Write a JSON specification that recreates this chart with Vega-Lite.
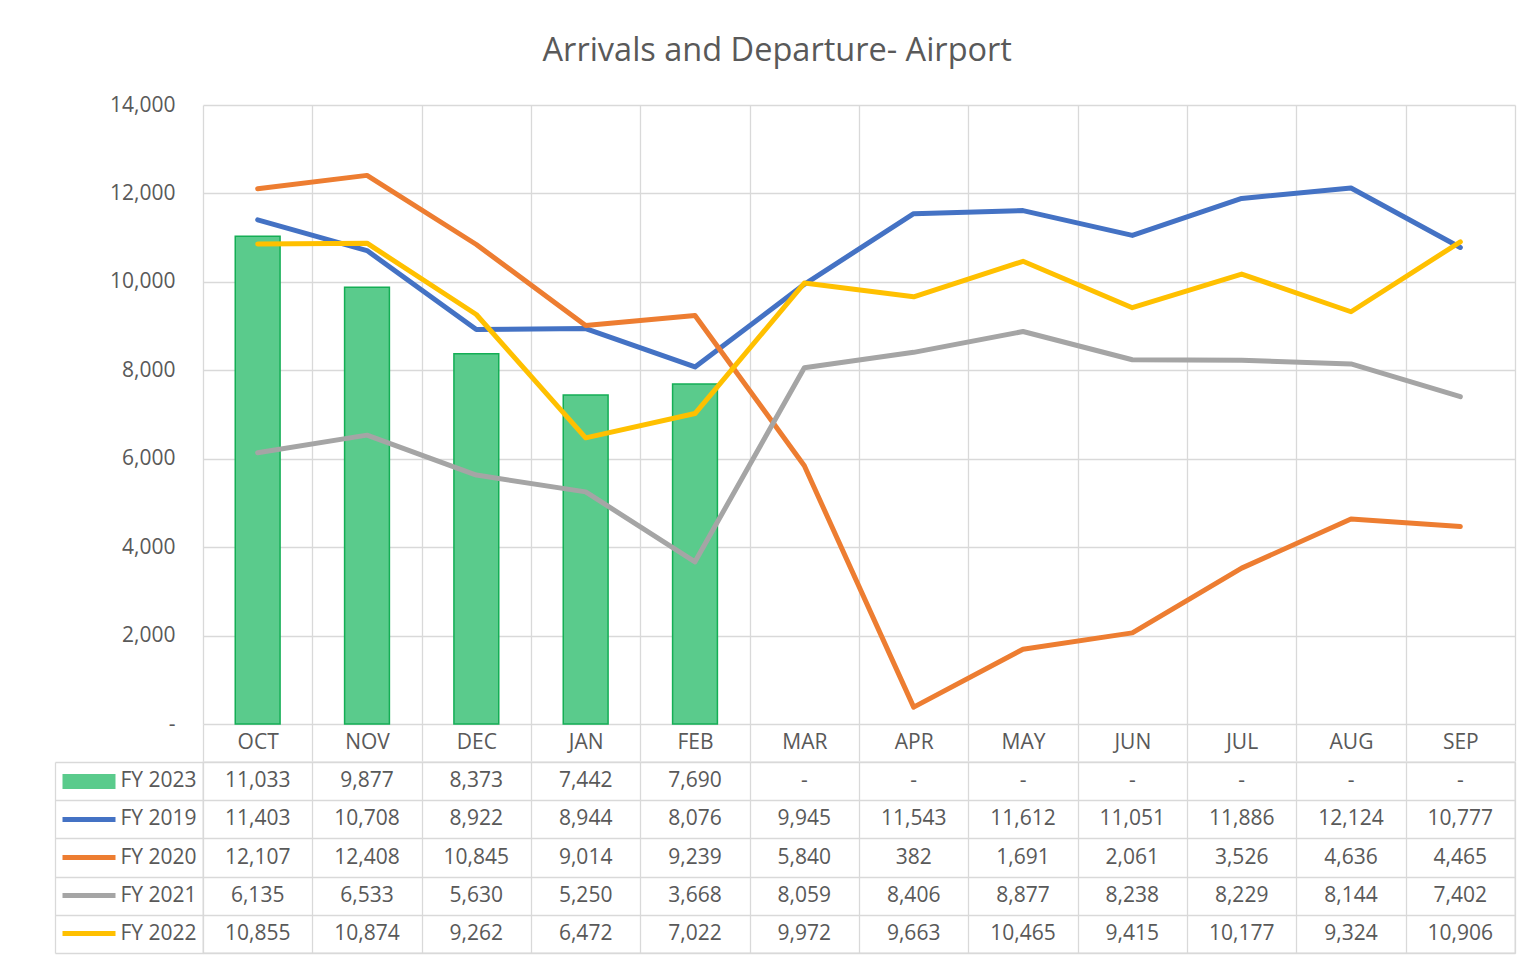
{
  "$schema": "https://vega.github.io/schema/vega-lite/v6.json",
  "background": "white",
  "padding": {"left": 46, "top": 34, "right": 26, "bottom": 10},
  "title": {"text": "Arrivals and Departure- Airport", "font": "Open Sans", "fontSize": 32.5, "fontWeight": "normal", "color": "#595959", "anchor": "middle", "dx": -4, "baseline": "alphabetic", "offset": 1},
  "spacing": -3,
  "datasets": {
    "d": [
      {"month": "OCT", "series": "FY 2023", "value": 11033},
      {"month": "NOV", "series": "FY 2023", "value": 9877},
      {"month": "DEC", "series": "FY 2023", "value": 8373},
      {"month": "JAN", "series": "FY 2023", "value": 7442},
      {"month": "FEB", "series": "FY 2023", "value": 7690},
      {"month": "MAR", "series": "FY 2023", "value": null},
      {"month": "APR", "series": "FY 2023", "value": null},
      {"month": "MAY", "series": "FY 2023", "value": null},
      {"month": "JUN", "series": "FY 2023", "value": null},
      {"month": "JUL", "series": "FY 2023", "value": null},
      {"month": "AUG", "series": "FY 2023", "value": null},
      {"month": "SEP", "series": "FY 2023", "value": null},
      {"month": "OCT", "series": "FY 2019", "value": 11403},
      {"month": "NOV", "series": "FY 2019", "value": 10708},
      {"month": "DEC", "series": "FY 2019", "value": 8922},
      {"month": "JAN", "series": "FY 2019", "value": 8944},
      {"month": "FEB", "series": "FY 2019", "value": 8076},
      {"month": "MAR", "series": "FY 2019", "value": 9945},
      {"month": "APR", "series": "FY 2019", "value": 11543},
      {"month": "MAY", "series": "FY 2019", "value": 11612},
      {"month": "JUN", "series": "FY 2019", "value": 11051},
      {"month": "JUL", "series": "FY 2019", "value": 11886},
      {"month": "AUG", "series": "FY 2019", "value": 12124},
      {"month": "SEP", "series": "FY 2019", "value": 10777},
      {"month": "OCT", "series": "FY 2020", "value": 12107},
      {"month": "NOV", "series": "FY 2020", "value": 12408},
      {"month": "DEC", "series": "FY 2020", "value": 10845},
      {"month": "JAN", "series": "FY 2020", "value": 9014},
      {"month": "FEB", "series": "FY 2020", "value": 9239},
      {"month": "MAR", "series": "FY 2020", "value": 5840},
      {"month": "APR", "series": "FY 2020", "value": 382},
      {"month": "MAY", "series": "FY 2020", "value": 1691},
      {"month": "JUN", "series": "FY 2020", "value": 2061},
      {"month": "JUL", "series": "FY 2020", "value": 3526},
      {"month": "AUG", "series": "FY 2020", "value": 4636},
      {"month": "SEP", "series": "FY 2020", "value": 4465},
      {"month": "OCT", "series": "FY 2021", "value": 6135},
      {"month": "NOV", "series": "FY 2021", "value": 6533},
      {"month": "DEC", "series": "FY 2021", "value": 5630},
      {"month": "JAN", "series": "FY 2021", "value": 5250},
      {"month": "FEB", "series": "FY 2021", "value": 3668},
      {"month": "MAR", "series": "FY 2021", "value": 8059},
      {"month": "APR", "series": "FY 2021", "value": 8406},
      {"month": "MAY", "series": "FY 2021", "value": 8877},
      {"month": "JUN", "series": "FY 2021", "value": 8238},
      {"month": "JUL", "series": "FY 2021", "value": 8229},
      {"month": "AUG", "series": "FY 2021", "value": 8144},
      {"month": "SEP", "series": "FY 2021", "value": 7402},
      {"month": "OCT", "series": "FY 2022", "value": 10855},
      {"month": "NOV", "series": "FY 2022", "value": 10874},
      {"month": "DEC", "series": "FY 2022", "value": 9262},
      {"month": "JAN", "series": "FY 2022", "value": 6472},
      {"month": "FEB", "series": "FY 2022", "value": 7022},
      {"month": "MAR", "series": "FY 2022", "value": 9972},
      {"month": "APR", "series": "FY 2022", "value": 9663},
      {"month": "MAY", "series": "FY 2022", "value": 10465},
      {"month": "JUN", "series": "FY 2022", "value": 9415},
      {"month": "JUL", "series": "FY 2022", "value": 10177},
      {"month": "AUG", "series": "FY 2022", "value": 9324},
      {"month": "SEP", "series": "FY 2022", "value": 10906}
    ]
  },
  "vconcat": [
    {
      "width": 1312,
      "height": 619,
      "data": {"name": "d"},
      "layer": [
        {
          "transform": [{"filter": "datum.series === 'FY 2023'"}],
          "mark": {"type": "bar", "width": {"band": 0.41}, "fill": "#5ACB8C", "stroke": "#14AE55", "strokeWidth": 1.5},
          "encoding": {
            "x": {"field": "month", "type": "nominal", "sort": ["OCT","NOV","DEC","JAN","FEB","MAR","APR","MAY","JUN","JUL","AUG","SEP"],
                  "scale": {"type": "band", "domain": ["OCT","NOV","DEC","JAN","FEB","MAR","APR","MAY","JUN","JUL","AUG","SEP"], "paddingInner": 0, "paddingOuter": 0},
                  "axis": {"orient": "bottom", "grid": true, "gridColor": "#D9D9D9", "gridWidth": 1.3, "tickBand": "extent", "ticks": true, "tickSize": 37, "tickColor": "#D9D9D9", "tickWidth": 1.3, "domain": false, "labelPadding": -19, "labelBaseline": "middle", "labelFont": "Open Sans", "labelFontSize": 21, "labelColor": "#595959", "labelAngle": 0, "title": null, "minExtent": 37, "maxExtent": 37}},
            "y": {"field": "value", "type": "quantitative", "scale": {"domain": [0, 14000], "nice": false},
                  "axis": {"values": [0, 2000, 4000, 6000, 8000, 10000, 12000, 14000], "labelExpr": "datum.value === 0 ? '-\u00a0\u00a0' : format(datum.value, ',')", "grid": true, "gridColor": "#D9D9D9", "gridWidth": 1.3, "domain": false, "ticks": false, "labelPadding": 28, "labelFont": "Open Sans", "labelFontSize": 21, "labelColor": "#595959", "title": null, "minExtent": 148, "maxExtent": 148}}
          }
        },
        {
          "transform": [{"filter": "datum.series !== 'FY 2023'"}],
          "mark": {"type": "line", "strokeWidth": 5, "strokeCap": "round", "strokeJoin": "round"},
          "encoding": {
            "x": {"field": "month", "type": "nominal", "sort": ["OCT","NOV","DEC","JAN","FEB","MAR","APR","MAY","JUN","JUL","AUG","SEP"]},
            "y": {"field": "value", "type": "quantitative"},
            "color": {"field": "series", "type": "nominal", "scale": {"domain": ["FY 2019", "FY 2020", "FY 2021", "FY 2022"], "range": ["#4472C4", "#ED7D31", "#A5A5A5", "#FFC000"]}, "legend": null}
          }
        }
      ]
    },
    {
      "width": 1312,
      "height": 191,
      "view": {"stroke": "#D9D9D9", "strokeWidth": 1.3},
      "data": {"name": "d"},
      "resolve": {"axis": {"y": "independent"}},
      "layer": [
        {
          "mark": {"type": "text", "font": "Open Sans", "fontSize": 21, "color": "#595959"},
          "encoding": {
            "x": {"field": "month", "type": "nominal", "sort": ["OCT","NOV","DEC","JAN","FEB","MAR","APR","MAY","JUN","JUL","AUG","SEP"],
                  "scale": {"type": "band", "domain": ["OCT","NOV","DEC","JAN","FEB","MAR","APR","MAY","JUN","JUL","AUG","SEP"], "paddingInner": 0, "paddingOuter": 0},
                  "axis": {"grid": true, "gridColor": "#D9D9D9", "gridWidth": 1.3, "tickBand": "extent", "ticks": false, "labels": false, "domain": false, "title": null, "minExtent": 0, "maxExtent": 0}},
            "y": {"field": "series", "type": "nominal", "sort": ["FY 2023", "FY 2019", "FY 2020", "FY 2021", "FY 2022"],
                  "scale": {"type": "band", "domain": ["FY 2023", "FY 2019", "FY 2020", "FY 2021", "FY 2022"], "paddingInner": 0, "paddingOuter": 0},
                  "axis": {"orient": "left", "grid": true, "gridColor": "#D9D9D9", "gridWidth": 1.3, "tickBand": "extent", "ticks": true, "tickSize": 148, "tickColor": "#D9D9D9", "tickWidth": 1.3, "labels": false, "domain": false, "title": null, "minExtent": 148, "maxExtent": 148}},
            "text": {"condition": {"test": "datum.value === null", "value": "-"}, "field": "value", "type": "quantitative", "format": ","}
          }
        },
        {
          "mark": {"type": "point", "opacity": 0},
          "encoding": {
            "x": {"field": "month", "type": "nominal", "sort": ["OCT","NOV","DEC","JAN","FEB","MAR","APR","MAY","JUN","JUL","AUG","SEP"],
                  "axis": {"grid": true, "gridColor": "#D9D9D9", "gridWidth": 1.3, "tickBand": "extent", "ticks": false, "labels": false, "domain": false, "title": null, "minExtent": 0, "maxExtent": 0}},
            "y": {"field": "series", "type": "nominal", "sort": ["FY 2023", "FY 2019", "FY 2020", "FY 2021", "FY 2022"],
                  "axis": {"orient": "right", "offset": -1460, "domain": true, "domainColor": "#D9D9D9", "domainWidth": 1.3, "grid": false, "ticks": true, "tickSize": 60, "tickDash": [0, 7, 53, 200],
                           "tickColor": {"condition": [{"test": "datum.value === 'FY 2023'", "value": "#5ACB8C"}, {"test": "datum.value === 'FY 2019'", "value": "#4472C4"}, {"test": "datum.value === 'FY 2020'", "value": "#ED7D31"}, {"test": "datum.value === 'FY 2021'", "value": "#A5A5A5"}], "value": "#FFC000"},
                           "tickWidth": {"condition": {"test": "datum.value === 'FY 2023'", "value": 15}, "value": 5},
                           "tickCap": "butt", "labelPadding": 5, "labelFont": "Open Sans", "labelFontSize": 21, "labelColor": "#595959", "labelAlign": "left", "title": null, "minExtent": 0, "maxExtent": 0}}
          }
        }
      ]
    }
  ],
  "config": {"view": {"stroke": null}, "font": "Open Sans"}
}
